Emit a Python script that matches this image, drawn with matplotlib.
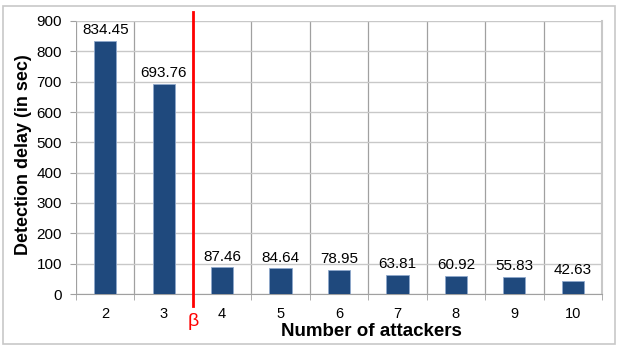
import numpy as np
import matplotlib.pyplot as plt
from matplotlib.patches import Rectangle

plt.rcParams['font.family'] = ['Liberation Sans', 'DejaVu Sans']

# datos
attackers = [2, 3, 4, 5, 6, 7, 8, 9, 10]
delay = [834.45, 693.76, 87.46, 84.64, 78.95, 63.81, 60.92, 55.83, 42.63]
value_labels = ['834.45', '693.76', '87.46', '84.64', '78.95', '63.81', '60.92', '55.83', '42.63']
beta_pos = 1.5  # entre 3 y 4

fig = plt.figure(figsize=(6.17, 3.47), dpi=100)
ax = fig.add_axes([76 / 617, 1 - 294 / 347, (602 - 76) / 617, (294 - 21) / 347])

x = np.arange(len(attackers))
ax.bar(x, delay, width=0.38, color='#1F497D', edgecolor='#8FA8CC', linewidth=0.6, zorder=3)

for xi, v, lab in zip(x, delay, value_labels):
    ax.text(xi, v + 12, lab, ha='center', va='bottom', fontsize=11, color='black', zorder=4)

ax.set_xlim(-0.5, len(attackers) - 0.5)
ax.set_ylim(0, 900)
ax.set_yticks(np.arange(0, 901, 100))
ax.set_xticks(x)
ax.set_xticklabels([str(a) for a in attackers], fontsize=10.5)
ax.tick_params(axis='x', length=0, pad=9)
ax.tick_params(axis='y', length=4, color='#A0A0A0', labelsize=11, pad=6)

# rejilla: horizontales claras, verticales en los limites de categoria
ax.grid(axis='y', color='#C8C8C8', linewidth=1.0, zorder=0)
for b in np.arange(-0.5, len(attackers), 1.0):
    ax.axvline(b, color='#A0A0A0', linewidth=0.9, zorder=1)
ax.set_xticks(np.arange(-0.5, len(attackers), 1.0), minor=True)
ax.tick_params(axis='x', which='minor', length=4, color='#A0A0A0')

for side in ['top', 'left']:
    ax.spines[side].set_visible(False)
ax.spines['bottom'].set_color('#A0A0A0')
ax.spines['right'].set_color('#C8C8C8')
ax.spines['right'].set_linewidth(1.5)

# linea beta
ax.plot([beta_pos, beta_pos], [930, -40], color='#FF0000', linewidth=2, clip_on=False, zorder=5)
ax.text(beta_pos, -90, 'β', color='#FF0000', ha='center', va='center', fontsize=14)

fig.text(371 / 617, 1 - 332 / 347, 'Number of attackers', ha='center', va='center',
         fontsize=13.5, fontweight='bold')
fig.text(24 / 617, 1 - 155 / 347, 'Detection delay (in sec)', ha='center', va='center',
         rotation=90, fontsize=13, fontweight='bold')

# marco exterior
fig.patches.append(Rectangle((3 / 617, 3 / 347), 612 / 617, 338 / 347, transform=fig.transFigure,
                             fill=False, edgecolor='#C8C8C8', linewidth=1.2))

fig.savefig('out.png', dpi=100)
